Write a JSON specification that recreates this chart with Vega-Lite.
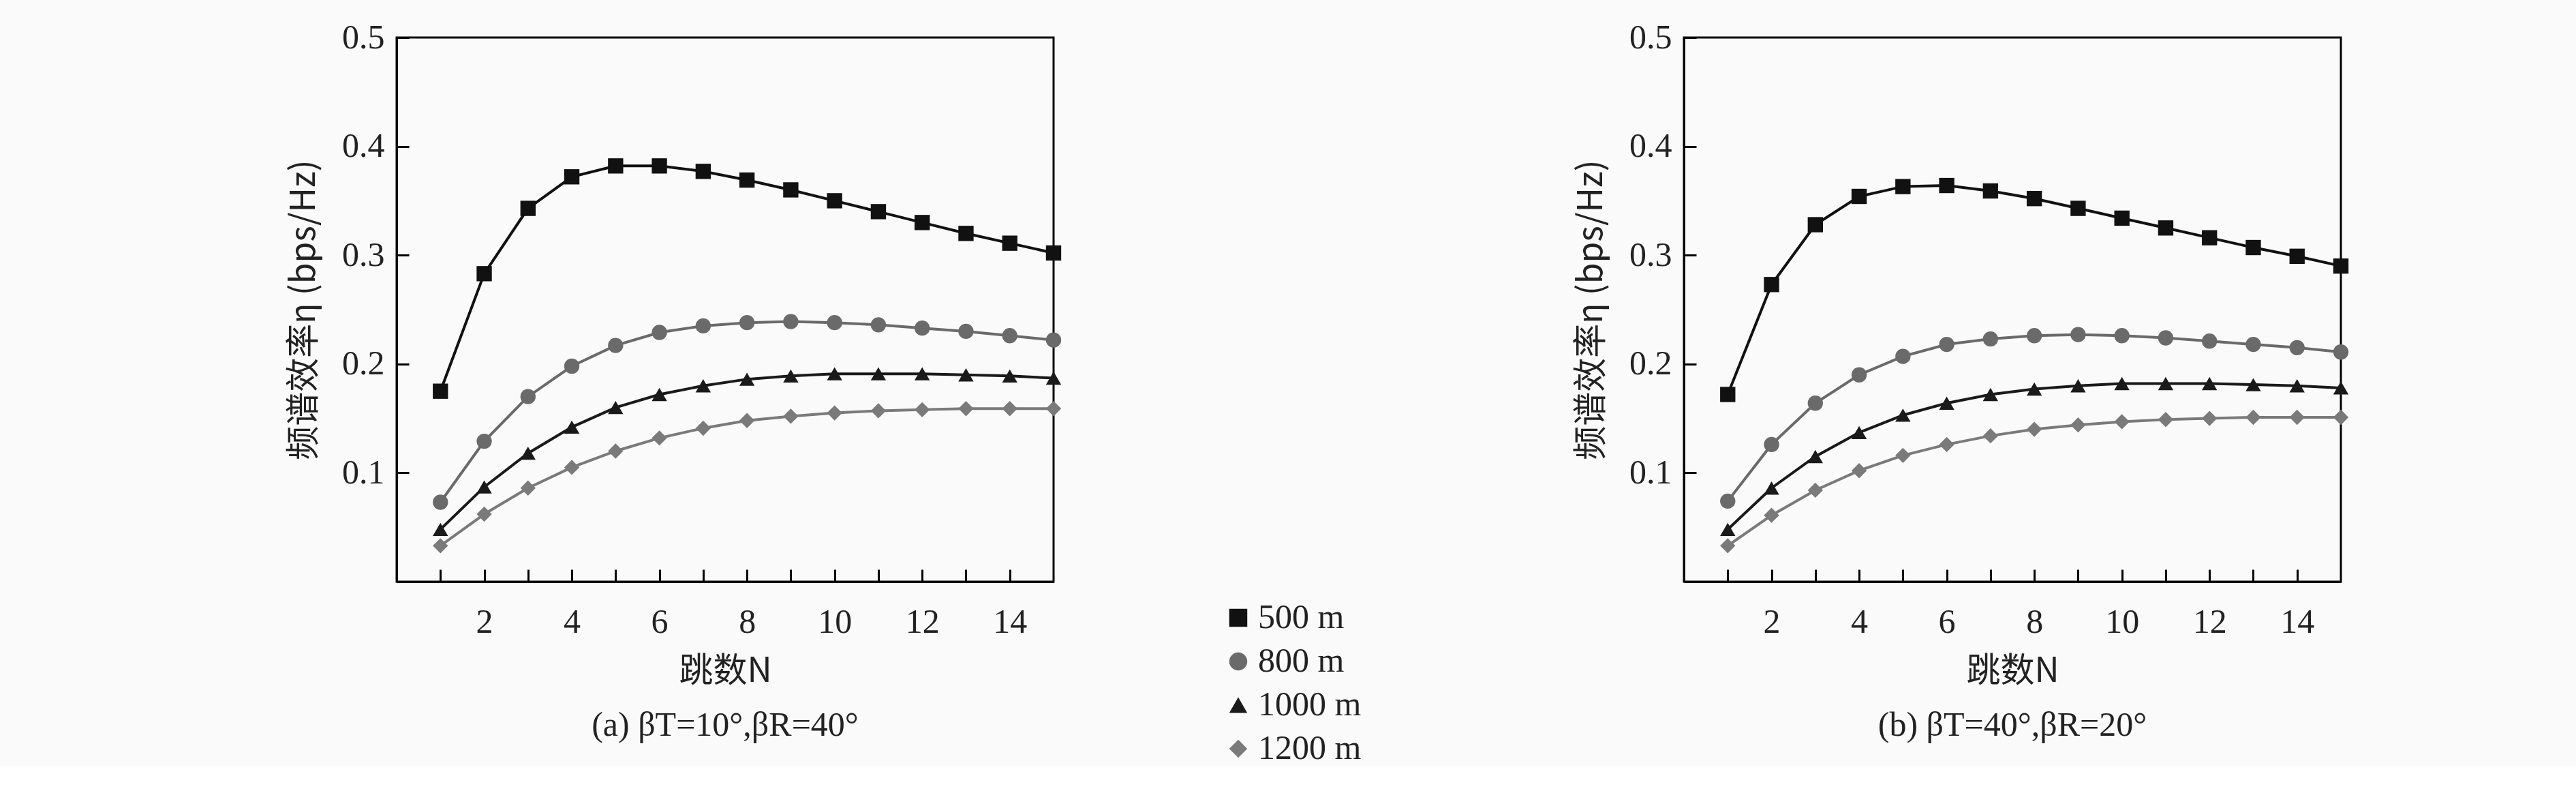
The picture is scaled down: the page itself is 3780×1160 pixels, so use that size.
{
  "$schema": "https://vega.github.io/schema/vega-lite/v6.json",
  "background": "#fafafa",
  "padding": {"left": 420, "top": 28, "right": 340, "bottom": 0},
  "spacing": 750,
  "config": {
    "font": "Liberation Serif",
    "view": {"stroke": "black", "strokeWidth": 3},
    "axis": {"labelFont": "Liberation Serif", "titleFont": "Noto Sans CJK SC", "labelFontSize": 50, "titleFontSize": 50, "titleFontWeight": "normal", "labelColor": "#222", "titleColor": "#222", "domainColor": "black", "domainWidth": 3, "tickColor": "black", "tickWidth": 3, "grid": false},
    "title": {"font": "Liberation Serif", "fontSize": 50, "fontWeight": "normal", "color": "#222"},
    "legend": {"labelFont": "Liberation Serif", "labelFontSize": 50, "labelColor": "#222", "symbolSize": 700, "symbolStrokeWidth": 0, "rowPadding": 14}
  },
  "datasets": {
    "eta": [
      {"p":"a","d":"500 m","N":1,"v":0.175},{"p":"a","d":"500 m","N":2,"v":0.283},{"p":"a","d":"500 m","N":3,"v":0.343},{"p":"a","d":"500 m","N":4,"v":0.372},{"p":"a","d":"500 m","N":5,"v":0.382},{"p":"a","d":"500 m","N":6,"v":0.382},{"p":"a","d":"500 m","N":7,"v":0.377},{"p":"a","d":"500 m","N":8,"v":0.369},{"p":"a","d":"500 m","N":9,"v":0.360},{"p":"a","d":"500 m","N":10,"v":0.350},{"p":"a","d":"500 m","N":11,"v":0.340},{"p":"a","d":"500 m","N":12,"v":0.330},{"p":"a","d":"500 m","N":13,"v":0.320},{"p":"a","d":"500 m","N":14,"v":0.311},{"p":"a","d":"500 m","N":15,"v":0.302},
      {"p":"a","d":"800 m","N":1,"v":0.073},{"p":"a","d":"800 m","N":2,"v":0.129},{"p":"a","d":"800 m","N":3,"v":0.170},{"p":"a","d":"800 m","N":4,"v":0.198},{"p":"a","d":"800 m","N":5,"v":0.217},{"p":"a","d":"800 m","N":6,"v":0.229},{"p":"a","d":"800 m","N":7,"v":0.235},{"p":"a","d":"800 m","N":8,"v":0.238},{"p":"a","d":"800 m","N":9,"v":0.239},{"p":"a","d":"800 m","N":10,"v":0.238},{"p":"a","d":"800 m","N":11,"v":0.236},{"p":"a","d":"800 m","N":12,"v":0.233},{"p":"a","d":"800 m","N":13,"v":0.230},{"p":"a","d":"800 m","N":14,"v":0.226},{"p":"a","d":"800 m","N":15,"v":0.222},
      {"p":"a","d":"1000 m","N":1,"v":0.048},{"p":"a","d":"1000 m","N":2,"v":0.087},{"p":"a","d":"1000 m","N":3,"v":0.118},{"p":"a","d":"1000 m","N":4,"v":0.142},{"p":"a","d":"1000 m","N":5,"v":0.160},{"p":"a","d":"1000 m","N":6,"v":0.172},{"p":"a","d":"1000 m","N":7,"v":0.180},{"p":"a","d":"1000 m","N":8,"v":0.186},{"p":"a","d":"1000 m","N":9,"v":0.189},{"p":"a","d":"1000 m","N":10,"v":0.191},{"p":"a","d":"1000 m","N":11,"v":0.191},{"p":"a","d":"1000 m","N":12,"v":0.191},{"p":"a","d":"1000 m","N":13,"v":0.190},{"p":"a","d":"1000 m","N":14,"v":0.189},{"p":"a","d":"1000 m","N":15,"v":0.187},
      {"p":"a","d":"1200 m","N":1,"v":0.033},{"p":"a","d":"1200 m","N":2,"v":0.062},{"p":"a","d":"1200 m","N":3,"v":0.086},{"p":"a","d":"1200 m","N":4,"v":0.105},{"p":"a","d":"1200 m","N":5,"v":0.120},{"p":"a","d":"1200 m","N":6,"v":0.132},{"p":"a","d":"1200 m","N":7,"v":0.141},{"p":"a","d":"1200 m","N":8,"v":0.148},{"p":"a","d":"1200 m","N":9,"v":0.152},{"p":"a","d":"1200 m","N":10,"v":0.155},{"p":"a","d":"1200 m","N":11,"v":0.157},{"p":"a","d":"1200 m","N":12,"v":0.158},{"p":"a","d":"1200 m","N":13,"v":0.159},{"p":"a","d":"1200 m","N":14,"v":0.159},{"p":"a","d":"1200 m","N":15,"v":0.159},
      {"p":"b","d":"500 m","N":1,"v":0.172},{"p":"b","d":"500 m","N":2,"v":0.273},{"p":"b","d":"500 m","N":3,"v":0.328},{"p":"b","d":"500 m","N":4,"v":0.354},{"p":"b","d":"500 m","N":5,"v":0.363},{"p":"b","d":"500 m","N":6,"v":0.364},{"p":"b","d":"500 m","N":7,"v":0.359},{"p":"b","d":"500 m","N":8,"v":0.352},{"p":"b","d":"500 m","N":9,"v":0.343},{"p":"b","d":"500 m","N":10,"v":0.334},{"p":"b","d":"500 m","N":11,"v":0.325},{"p":"b","d":"500 m","N":12,"v":0.316},{"p":"b","d":"500 m","N":13,"v":0.307},{"p":"b","d":"500 m","N":14,"v":0.299},{"p":"b","d":"500 m","N":15,"v":0.290},
      {"p":"b","d":"800 m","N":1,"v":0.074},{"p":"b","d":"800 m","N":2,"v":0.126},{"p":"b","d":"800 m","N":3,"v":0.164},{"p":"b","d":"800 m","N":4,"v":0.190},{"p":"b","d":"800 m","N":5,"v":0.207},{"p":"b","d":"800 m","N":6,"v":0.218},{"p":"b","d":"800 m","N":7,"v":0.223},{"p":"b","d":"800 m","N":8,"v":0.226},{"p":"b","d":"800 m","N":9,"v":0.227},{"p":"b","d":"800 m","N":10,"v":0.226},{"p":"b","d":"800 m","N":11,"v":0.224},{"p":"b","d":"800 m","N":12,"v":0.221},{"p":"b","d":"800 m","N":13,"v":0.218},{"p":"b","d":"800 m","N":14,"v":0.215},{"p":"b","d":"800 m","N":15,"v":0.211},
      {"p":"b","d":"1000 m","N":1,"v":0.048},{"p":"b","d":"1000 m","N":2,"v":0.086},{"p":"b","d":"1000 m","N":3,"v":0.115},{"p":"b","d":"1000 m","N":4,"v":0.137},{"p":"b","d":"1000 m","N":5,"v":0.153},{"p":"b","d":"1000 m","N":6,"v":0.164},{"p":"b","d":"1000 m","N":7,"v":0.172},{"p":"b","d":"1000 m","N":8,"v":0.177},{"p":"b","d":"1000 m","N":9,"v":0.180},{"p":"b","d":"1000 m","N":10,"v":0.182},{"p":"b","d":"1000 m","N":11,"v":0.182},{"p":"b","d":"1000 m","N":12,"v":0.182},{"p":"b","d":"1000 m","N":13,"v":0.181},{"p":"b","d":"1000 m","N":14,"v":0.180},{"p":"b","d":"1000 m","N":15,"v":0.178},
      {"p":"b","d":"1200 m","N":1,"v":0.033},{"p":"b","d":"1200 m","N":2,"v":0.061},{"p":"b","d":"1200 m","N":3,"v":0.084},{"p":"b","d":"1200 m","N":4,"v":0.102},{"p":"b","d":"1200 m","N":5,"v":0.116},{"p":"b","d":"1200 m","N":6,"v":0.126},{"p":"b","d":"1200 m","N":7,"v":0.134},{"p":"b","d":"1200 m","N":8,"v":0.140},{"p":"b","d":"1200 m","N":9,"v":0.144},{"p":"b","d":"1200 m","N":10,"v":0.147},{"p":"b","d":"1200 m","N":11,"v":0.149},{"p":"b","d":"1200 m","N":12,"v":0.150},{"p":"b","d":"1200 m","N":13,"v":0.151},{"p":"b","d":"1200 m","N":14,"v":0.151},{"p":"b","d":"1200 m","N":15,"v":0.151}
    ]
  },
  "hconcat": [
    {
      "width": 964, "height": 798,
      "title": {"text": "(a) βT=10°,βR=40°", "orient": "bottom", "offset": 30},
      "data": {"name": "eta"},
      "transform": [{"filter": "datum.p === 'a'"}],
      "encoding": {
        "x": {"field": "N", "type": "quantitative", "scale": {"domain": [0, 15], "nice": false}, "axis": {"values": [1,2,3,4,5,6,7,8,9,10,11,12,13,14], "labelExpr": "datum.value % 2 === 0 ? datum.label : ''", "tickSize": -18, "labelPadding": 52, "title": "跳数N", "titlePadding": 22}},
        "y": {"field": "v", "type": "quantitative", "scale": {"domain": [0, 0.5], "nice": false}, "axis": {"values": [0.1,0.2,0.3,0.4,0.5], "format": ".1f", "tickSize": -18, "labelPadding": 36, "title": "频谱效率η (bps/Hz)", "titlePadding": 30}},
        "color": {"field": "d", "type": "nominal", "sort": ["500 m","800 m","1000 m","1200 m"], "scale": {"domain": ["500 m","800 m","1000 m","1200 m"], "range": ["#111111","#6a6a6a","#1a1a1a","#7a7a7a"]}, "legend": {"title": null, "orient": "none", "legendX": 1210, "legendY": 826}},
        "shape": {"field": "d", "type": "nominal", "sort": ["500 m","800 m","1000 m","1200 m"], "scale": {"domain": ["500 m","800 m","1000 m","1200 m"], "range": ["square","circle","triangle-up","diamond"]}, "legend": {"title": null, "orient": "none", "legendX": 1210, "legendY": 826}},
        "detail": {"field": "d"}
      },
      "layer": [
        {"mark": {"type": "line", "strokeWidth": 4}},
        {"mark": {"type": "point", "filled": true, "opacity": 1, "size": 500}}
      ]
    },
    {
      "width": 964, "height": 798,
      "title": {"text": "(b) βT=40°,βR=20°", "orient": "bottom", "offset": 30},
      "data": {"name": "eta"},
      "transform": [{"filter": "datum.p === 'b'"}],
      "encoding": {
        "x": {"field": "N", "type": "quantitative", "scale": {"domain": [0, 15], "nice": false}, "axis": {"values": [1,2,3,4,5,6,7,8,9,10,11,12,13,14], "labelExpr": "datum.value % 2 === 0 ? datum.label : ''", "tickSize": -18, "labelPadding": 52, "title": "跳数N", "titlePadding": 22}},
        "y": {"field": "v", "type": "quantitative", "scale": {"domain": [0, 0.5], "nice": false}, "axis": {"values": [0.1,0.2,0.3,0.4,0.5], "format": ".1f", "tickSize": -18, "labelPadding": 36, "title": "频谱效率η (bps/Hz)", "titlePadding": 30}},
        "color": {"field": "d", "type": "nominal", "sort": ["500 m","800 m","1000 m","1200 m"], "legend": null},
        "shape": {"field": "d", "type": "nominal", "sort": ["500 m","800 m","1000 m","1200 m"], "legend": null},
        "detail": {"field": "d"}
      },
      "layer": [
        {"mark": {"type": "line", "strokeWidth": 4}},
        {"mark": {"type": "point", "filled": true, "opacity": 1, "size": 500}}
      ]
    }
  ]
}
